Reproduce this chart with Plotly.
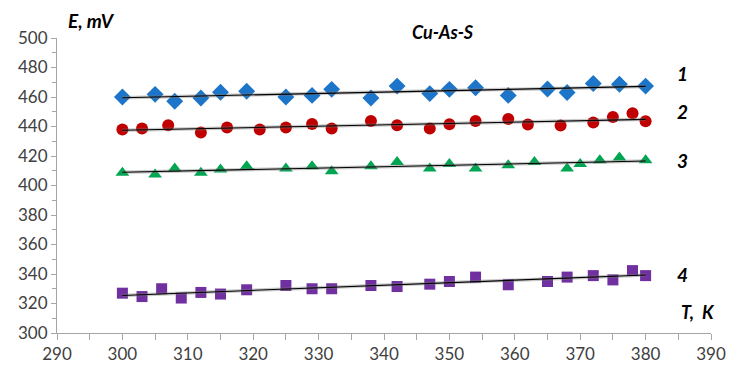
import numpy as np
import plotly.graph_objects as go

# Temperature (K) and EMF (mV) for the four Cu-As-S cells
t1 = [300, 305, 308, 312, 315, 319, 325, 329, 332, 338, 342, 347, 350, 354, 359, 365, 368, 372, 376, 380]
e1 = [460.0, 461.8, 457.1, 459.3, 463.2, 463.9, 460.0, 461.1, 465.2, 459.3, 467.4,
      462.3, 465.2, 466.3, 461.1, 465.4, 463.0, 469.2, 468.6, 467.4]

t2 = [300, 303, 307, 312, 316, 321, 325, 329, 332, 338, 342, 347, 350, 354, 359, 362, 367, 372, 375, 378, 380]
e2 = [437.9, 438.6, 440.8, 435.9, 439.3, 437.9, 439.3, 441.7, 438.6, 443.7, 440.8,
      438.6, 441.5, 443.7, 445.1, 441.3, 440.6, 442.7, 446.4, 449.0, 443.5]

t3 = [300, 305, 308, 312, 315, 319, 325, 329, 332, 338, 342, 347, 350, 354, 359, 363, 368, 370, 373, 376, 380]
e3 = [408.6, 407.5, 411.6, 408.6, 410.9, 413.1, 411.6, 413.1, 409.7, 413.1, 416.0,
      411.6, 414.5, 411.6, 413.8, 416.0, 411.6, 414.5, 417.2, 419.0, 417.2]

t4 = [300, 303, 306, 309, 312, 315, 319, 325, 329, 332, 338, 342, 347, 350, 354, 359, 365, 368, 372, 375, 378, 380]
e4 = [327.0, 324.7, 330.0, 323.7, 327.5, 326.4, 329.3, 332.2, 330.0, 330.0, 332.2, 331.5,
      333.1, 334.9, 337.9, 332.7, 334.9, 337.9, 338.9, 336.0, 342.3, 338.9]

series_labels = ["1", "2", "3", "4"]

series = [
    (t1, e1, "diamond", "#1C75C8", 13),
    (t2, e2, "circle", "#C00000", 12),
    (t3, e3, "triangle-up", "#00A651", 12),
    (t4, e4, "square", "#7030A0", 11),
]

fig = go.Figure()

for t, e, sym, col, size in series:
    fig.add_trace(go.Scatter(
        x=t, y=e, mode="markers",
        marker=dict(symbol=sym, color=col, size=size, line=dict(width=0)),
        showlegend=False, hoverinfo="skip",
    ))

# Linear trend lines over each data set
for t, e, sym, col, size in series:
    k, b = np.polyfit(t, e, 1)
    xs = np.array([min(t), max(t)])
    ys = k * xs + b
    fig.add_trace(go.Scatter(x=xs, y=ys, mode="lines",
                             line=dict(color="rgba(120,120,120,0.4)", width=3.5),
                             showlegend=False, hoverinfo="skip"))
    fig.add_trace(go.Scatter(x=xs, y=ys, mode="lines",
                             line=dict(color="#000000", width=1.1),
                             showlegend=False, hoverinfo="skip"))

# Curve numbers on the right
label_y = [476, 450.3, 417.2, 339.4]
for lab, y in zip(series_labels, label_y):
    fig.add_annotation(x=385.6, y=y, text="<b><i>" + lab + "</i></b>", showarrow=False,
                       font=dict(family="Lato", size=19, color="#000000"),
                       xanchor="center", yanchor="middle")

fig.add_annotation(x=388, y=314, text="<b><i>T,  K</i></b>", showarrow=False,
                   font=dict(family="Lato", size=18, color="#000000"),
                   xanchor="center", yanchor="middle")
fig.add_annotation(x=91, y=20, xref="paper", yref="paper", text="<b><i>E, mV</i></b>",
                   showarrow=False, font=dict(family="Lato", size=19, color="#000000"),
                   xanchor="center", yanchor="middle")
fig.add_annotation(x=443, y=31, xref="paper", yref="paper", text="<b><i>Cu-As-S</i></b>",
                   showarrow=False, font=dict(family="Lato", size=18, color="#000000"),
                   xanchor="center", yanchor="middle")

# convert pixel positions of the header texts to paper coordinates
W, H = 729, 368
L, R, T, B = 57, 18, 37.5, 34.7
pw, ph = W - L - R, H - T - B
for a in fig.layout.annotations:
    if a.xref == "paper":
        a.x = (a.x - L) / pw
        a.y = 1 - (a.y - T) / ph

axis_font = dict(family="Lato", size=17, color="#404040")
fig.update_xaxes(range=[290, 390], dtick=10, tick0=290, showgrid=False, zeroline=False,
                 showline=True, linecolor="#A6A6A6", linewidth=1, automargin=False,
                 ticks="outside", ticklen=6, tickcolor="#A6A6A6",
                 minor=dict(dtick=5, ticks="outside", ticklen=6, tickcolor="#A6A6A6", showgrid=False),
                 tickfont=axis_font)
fig.update_yaxes(range=[300, 500], dtick=20, tick0=300, showgrid=False, zeroline=False,
                 showline=True, linecolor="#A6A6A6", linewidth=1, automargin=False,
                 ticks="outside", ticklen=5, tickcolor="#A6A6A6",
                 minor=dict(dtick=10, ticks="outside", ticklen=4, tickcolor="#A6A6A6", showgrid=False),
                 tickfont=axis_font)

fig.update_layout(width=W, height=H,
                  margin=dict(l=L, r=R, t=T, b=B),
                  paper_bgcolor="white", plot_bgcolor="white")

fig.write_html("out.html")
